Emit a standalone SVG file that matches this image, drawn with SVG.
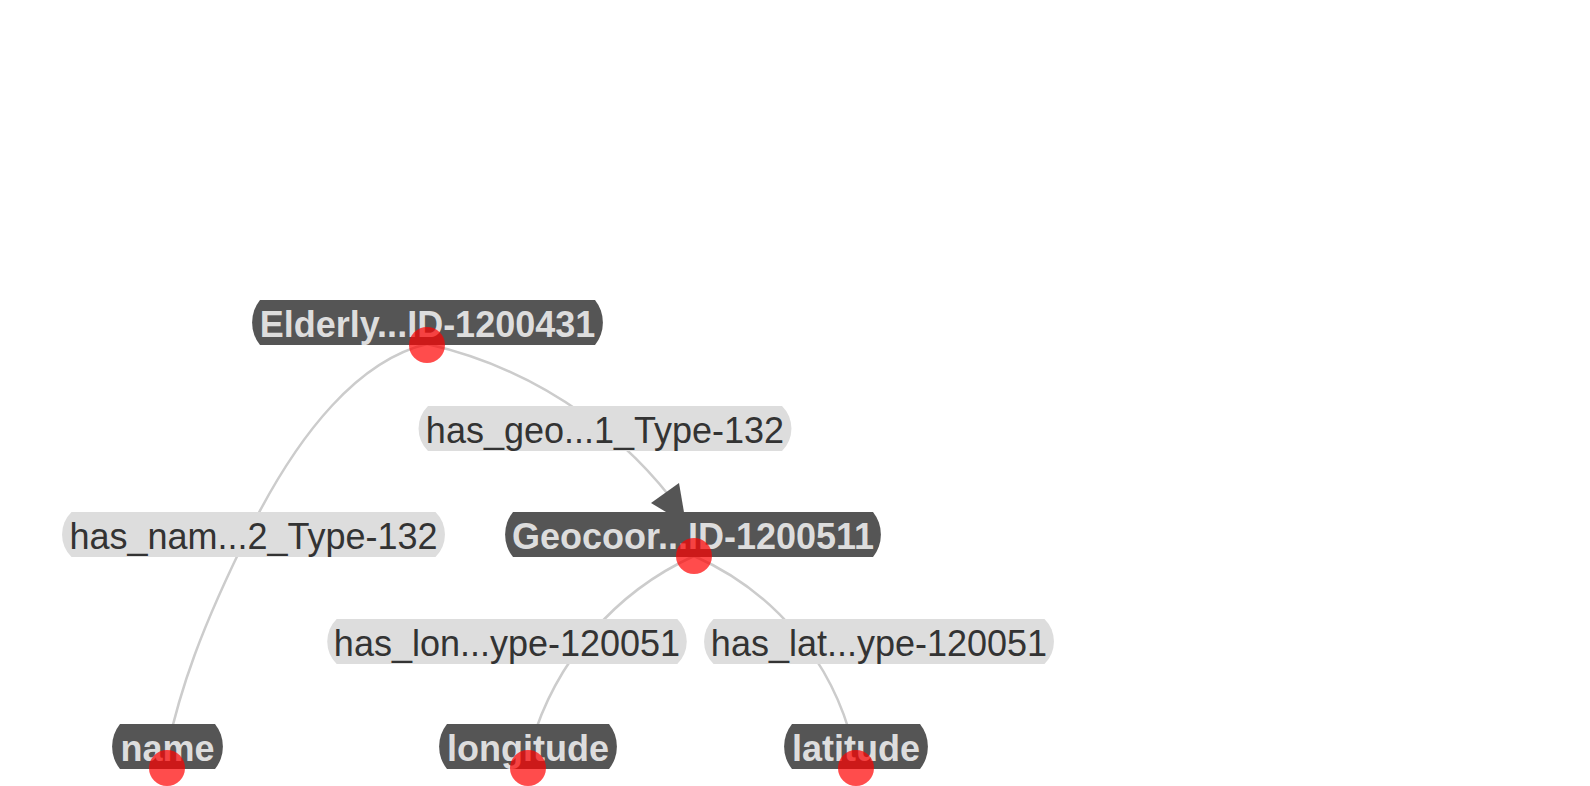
<svg xmlns="http://www.w3.org/2000/svg" width="1590" height="786" viewBox="0 0 1590 786">
<style>
.edge{fill:none;stroke:#cccccc;stroke-width:2.5}
.arrow{fill:#555555}
.node-shape{fill:#555555}
.node-text{font-family:"Liberation Sans",Arial,sans-serif;font-size:36px;font-weight:bold;fill:#dddddd;text-anchor:middle}
.label-shape{fill:#dddddd}
.label-text{font-family:"Liberation Sans",Arial,sans-serif;font-size:36px;fill:#333333;text-anchor:middle}
.anchor{fill:#ff0000;opacity:0.7}
</style>
<rect width="1590" height="786" fill="#ffffff"/>
<g id="connectors">
<path class="edge" d="M427,344 A431,431 0 0 1 700,540"/>
<path class="edge" d="M427,344 C360,360 300,430 250,530 C200,630 180,690 167,750"/>
<path class="edge" d="M694,556 A299,299 0 0 0 531,745"/>
<path class="edge" d="M694,556 A279,279 0 0 1 853,745"/>
<polygon class="arrow" points="651,503 679,483 686,524"/>
</g>
<g id="edge-labels">
<g id="label-has-geo">
<path class="label-shape" d="M428,406 H782 A31.5,31.5 0 0 1 782,451 H428 A31.5,31.5 0 0 1 428,406 Z"/>
<text class="label-text" x="605" y="442.5">has_geo...1_Type-132</text>
</g>
<g id="label-has-nam">
<path class="label-shape" d="M71.5,512 H435.5 A31.5,31.5 0 0 1 435.5,557 H71.5 A31.5,31.5 0 0 1 71.5,512 Z"/>
<text class="label-text" x="253.5" y="548.5">has_nam...2_Type-132</text>
</g>
<g id="label-has-lon">
<path class="label-shape" d="M336.7,619 H677.3 A31.5,31.5 0 0 1 677.3,664 H336.7 A31.5,31.5 0 0 1 336.7,619 Z"/>
<text class="label-text" x="507" y="655.5">has_lon...ype-120051</text>
</g>
<g id="label-has-lat">
<path class="label-shape" d="M713.5,619 H1044.5 A31.5,31.5 0 0 1 1044.5,664 H713.5 A31.5,31.5 0 0 1 713.5,619 Z"/>
<text class="label-text" x="879" y="655.5">has_lat...ype-120051</text>
</g>
</g>
<g id="node-elderly">
<path class="node-shape" d="M260,300 H595 A36,36 0 0 1 595,345 H260 A36,36 0 0 1 260,300 Z"/>
<text class="node-text" x="427.5" y="336.5">Elderly...ID-1200431</text>
<circle class="anchor" cx="427" cy="345" r="18"/>
</g>
<g id="node-geocoor">
<path class="node-shape" d="M513,512 H873 A36,36 0 0 1 873,557 H513 A36,36 0 0 1 513,512 Z"/>
<text class="node-text" x="693" y="548.5">Geocoor...ID-1200511</text>
<circle class="anchor" cx="694" cy="556" r="18"/>
</g>
<g id="node-name">
<path class="node-shape" d="M120,724 H215 A36,36 0 0 1 215,769 H120 A36,36 0 0 1 120,724 Z"/>
<text class="node-text" x="167.5" y="760.5">name</text>
<circle class="anchor" cx="167" cy="768" r="18"/>
</g>
<g id="node-longitude">
<path class="node-shape" d="M447,724 H609 A36,36 0 0 1 609,769 H447 A36,36 0 0 1 447,724 Z"/>
<text class="node-text" x="528" y="760.5">longitude</text>
<circle class="anchor" cx="528" cy="768" r="18"/>
</g>
<g id="node-latitude">
<path class="node-shape" d="M792,724 H920 A36,36 0 0 1 920,769 H792 A36,36 0 0 1 792,724 Z"/>
<text class="node-text" x="856" y="760.5">latitude</text>
<circle class="anchor" cx="856" cy="768" r="18"/>
</g>
</svg>
